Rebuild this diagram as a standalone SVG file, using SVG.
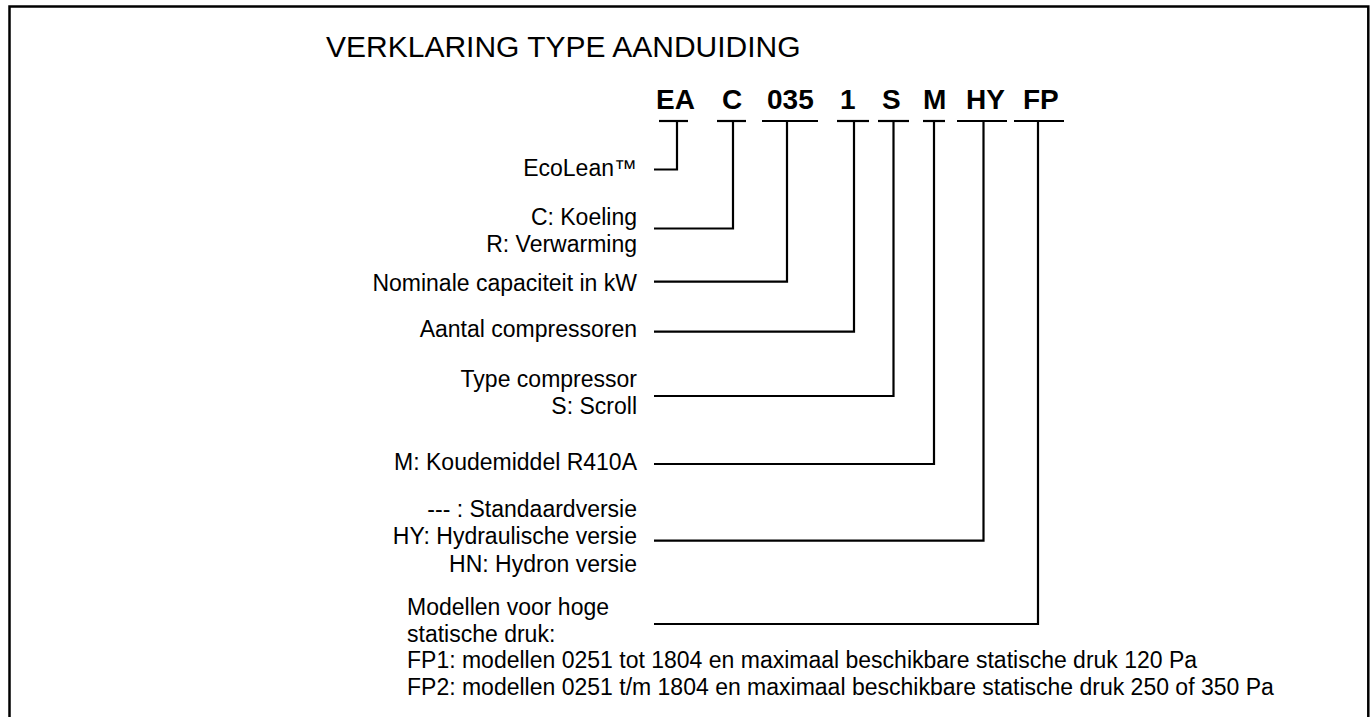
<svg xmlns="http://www.w3.org/2000/svg" width="1372" height="717" viewBox="0 0 1372 717">
<style>
  .lbl { font-family: "Liberation Sans", Arial, sans-serif; font-size: 23px; fill: #000; }
  .r { text-anchor: end; }
  .code { font-family: "Liberation Sans", Arial, sans-serif; font-size: 28px; font-weight: bold; fill: #000; }
  .title { font-family: "Liberation Sans", Arial, sans-serif; font-size: 30px; fill: #000; }
  .ul { stroke: #000; stroke-width: 2.2; fill: none; }
  .conn { stroke: #000; stroke-width: 2.2; fill: none; stroke-linejoin: miter; }
</style>
<rect x="0" y="0" width="1372" height="717" fill="#fff"/>
<path d="M9.5,720 V6.5 H1368.3 V720" fill="none" stroke="#000" stroke-width="2.5"/>
<text id="title" class="title" x="326" y="57">VERKLARING TYPE AANDUIDING</text>

<g id="code-EA"><text class="code" x="656" y="109">EA</text><line class="ul" x1="659" y1="121" x2="688" y2="121"/></g>
<g id="code-C"><text class="code" x="722" y="109">C</text><line class="ul" x1="717" y1="121" x2="746" y2="121"/></g>
<g id="code-035"><text class="code" x="767" y="109">035</text><line class="ul" x1="762" y1="121" x2="818" y2="121"/></g>
<g id="code-1"><text class="code" x="840" y="109">1</text><line class="ul" x1="837" y1="121" x2="869" y2="121"/></g>
<g id="code-S"><text class="code" x="882" y="109">S</text><line class="ul" x1="878" y1="121" x2="909" y2="121"/></g>
<g id="code-M"><text class="code" x="923" y="109">M</text><line class="ul" x1="923" y1="121" x2="945" y2="121"/></g>
<g id="code-HY"><text class="code" x="966" y="109">HY</text><line class="ul" x1="957" y1="121" x2="1007" y2="121"/></g>
<g id="code-FP"><text class="code" x="1023" y="109">FP</text><line class="ul" x1="1014" y1="121" x2="1064" y2="121"/></g>

<g id="label-ecolean"><text class="lbl r" x="637" y="176">EcoLean™</text></g>
<g id="label-koeling"><text class="lbl r" x="637" y="225">C: Koeling</text><text class="lbl r" x="637" y="251.5">R: Verwarming</text></g>
<g id="label-capaciteit"><text class="lbl r" x="637" y="291">Nominale capaciteit in kW</text></g>
<g id="label-compressoren"><text class="lbl r" x="637" y="337">Aantal compressoren</text></g>
<g id="label-type"><text class="lbl r" x="637" y="387">Type compressor</text><text class="lbl r" x="637" y="414">S: Scroll</text></g>
<g id="label-koudemiddel"><text class="lbl r" x="637" y="470">M: Koudemiddel R410A</text></g>
<g id="label-versie"><text class="lbl r" x="637" y="517">--- : Standaardversie</text><text class="lbl r" x="637" y="544">HY: Hydraulische versie</text><text class="lbl r" x="637" y="571.5">HN: Hydron versie</text></g>
<g id="label-fp"><text class="lbl" x="407" y="615">Modellen voor hoge</text><text class="lbl" x="407" y="641.5">statische druk:</text><text class="lbl" x="407" y="668">FP1: modellen 0251 tot 1804 en maximaal beschikbare statische druk 120 Pa</text><text class="lbl" x="407" y="695">FP2: modellen 0251 t/m 1804 en maximaal beschikbare statische druk 250 of 350 Pa</text></g>

<g id="connectors">
  <polyline class="conn" points="677,121 677,169.5 654,169.5"/>
  <polyline class="conn" points="733,121 733,228.5 654,228.5"/>
  <polyline class="conn" points="787,121 787,281.7 654,281.7"/>
  <polyline class="conn" points="854,121 854,331.7 654,331.7"/>
  <polyline class="conn" points="893.5,121 893.5,396 654,396"/>
  <polyline class="conn" points="934,121 934,464 654,464"/>
  <polyline class="conn" points="983.5,121 983.5,540.7 654,540.7"/>
  <polyline class="conn" points="1038,121 1038,624 654,624"/>
</g>
</svg>
